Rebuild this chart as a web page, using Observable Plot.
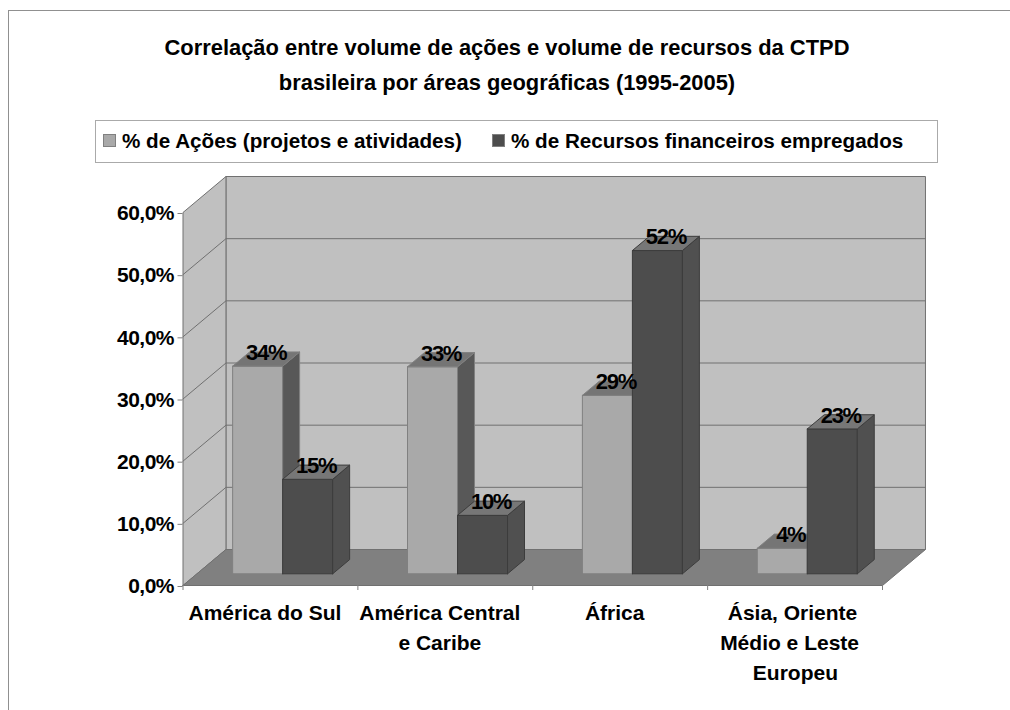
<!DOCTYPE html>
<html lang="pt">
<head>
<meta charset="utf-8">
<script src="https://cdn.jsdelivr.net/npm/d3@7"></script>
<script src="https://cdn.jsdelivr.net/npm/@observablehq/plot@0.6"></script>
<style>
html,body{margin:0;padding:0;background:#fff;width:1010px;height:710px;overflow:hidden;font-family:"Liberation Sans",Arial,sans-serif;color:#000}
#frame{position:absolute;left:8px;top:10px;width:1010px;height:710px;border-left:1px solid #909090;border-top:1px solid #909090}
#title{position:absolute;left:0;top:30px;width:1014px;text-align:center;font-weight:bold;font-size:21.9px;line-height:35px}
#legend{position:absolute;left:95px;top:120px;width:841px;height:41px;border:1px solid #aaa;background:#fff;font-weight:bold;font-size:20.65px}
#legend span{position:absolute;top:7px;line-height:26px;white-space:nowrap}
#legend i{position:absolute;top:13px;width:11px;height:11px;border:1px solid #808080}
#chart{position:absolute;left:0;top:170px}
#chart .data-label, #chart .data-label text{letter-spacing:-1.3px}
#chart g[aria-label="y-axis tick label"] text{letter-spacing:-0.5px}
</style>
</head>
<body>
<div id="frame"></div>
<div id="title">Correlação entre volume de ações e volume de recursos da CTPD<br>brasileira por áreas geográficas (1995-2005)</div>
<div id="legend"></div>
<div id="chart"></div>
<script>
const categories = ["América do Sul", "América Central\ne Caribe", "África", "\u00a0Ásia, Oriente\nMédio e Leste\n\u00a0\u00a0Europeu"];
const series = ["% de Ações (projetos e atividades)", "% de Recursos financeiros empregados"];
const acoes = [33.4, 33.3, 28.7, 4.1];
const recursos = [15.2, 9.4, 52, 23.3];
const acoesLabels = ["34%", "33%", "29%", "4%"];
const recursosLabels = ["15%", "10%", "52%", "23%"];
const yTicks = [0, 10, 20, 30, 40, 50, 60];
const colors = {
  wall: "#c0c0c0", floor: "#808080", line: "#707070",
  aFront: "#a9a9a9", aSide: "#585858", aTop: "#757575", aStroke: "#808080",
  bFront: "#4d4d4d", bSide: "#505050", bTop: "#777777", bStroke: "#3c3c3c"
};

// oblique projection, in data units: depth 0 = front plane, depth 1 = back wall
const depthX = 0.2457, depthY = 5.79;
const P = (c, v, d) => ({x: c + d * depthX, y: v + d * depthY});
const poly = (pts, fill, stroke, strokeWidth = 1) =>
  Plot.line([...pts, pts[0]].map(([c, v, d]) => P(c, v, d)), {x: "x", y: "y", fill, stroke, strokeWidth, strokeLinejoin: "round"});

const barD0 = 0.325, barD1 = 0.72, barW = 0.286, barShift = -0.01;
function bar(c, v, offset, fr, si, to, st) {
  const a = c + 0.5 + barShift - barW + offset * barW, b = a + barW;
  return [
    poly([[a, 0, barD0], [b, 0, barD0], [b, v, barD0], [a, v, barD0]], fr, st),
    poly([[b, 0, barD0], [b, 0, barD1], [b, v, barD1], [b, v, barD0]], si, st),
    poly([[a, v, barD0], [b, v, barD0], [b, v, barD1], [a, v, barD1]], to, st)
  ];
}
const barMarks = categories.flatMap((_, i) => [
  ...bar(i, acoes[i], 0, colors.aFront, colors.aSide, colors.aTop, colors.aStroke),
  ...bar(i, recursos[i], 1, colors.bFront, colors.bSide, colors.bTop, colors.bStroke)
]);
const labelRows = categories.flatMap((_, i) => [
  {...P(i + 0.5 + barShift - barW / 2, acoes[i], (barD0 + barD1) / 2), t: acoesLabels[i]},
  {...P(i + 0.5 + barShift + barW / 2, recursos[i], (barD0 + barD1) / 2), t: recursosLabels[i]}
]);

const plot = Plot.plot({
  width: 1010, height: 520,
  marginLeft: 182.5, marginRight: 128, marginTop: 42, marginBottom: 105,
  x: {domain: [0, 4], axis: null},
  y: {domain: [0, 60], axis: null},
  style: {fontFamily: '"Liberation Sans", Arial, sans-serif', fontWeight: "bold", fontSize: "20px", background: "transparent", overflow: "visible"},
  marks: [
    poly([[0, 0, 1], [4, 0, 1], [4, 60, 1], [0, 60, 1]], colors.wall, colors.line),
    poly([[0, 0, 0], [0, 0, 1], [0, 60, 1], [0, 60, 0]], colors.wall, colors.line),
    ...yTicks.slice(1, -1).map(v => Plot.line([P(0, v, 0), P(0, v, 1), P(4, v, 1)], {x: "x", y: "y", stroke: colors.line, strokeWidth: 1})),
    poly([[0, 0, 0], [4, 0, 0], [4, 0, 1], [0, 0, 1]], colors.floor, colors.line),
    Plot.axisY({ticks: yTicks, tickSize: 5, tickPadding: 4, stroke: "#808080", fill: "black", label: null, fontSize: 21, dy: 1,
      tickFormat: d => d.toFixed(1).replace(".", ",") + "%"}),
    Plot.axisX({ticks: [0, 1, 2, 3, 4], tickSize: 5, tickFormat: () => "", stroke: "#808080", label: null}),
    ...barMarks,
    Plot.text(labelRows, {x: "x", y: "y", text: "t", dy: -6, fill: "black", fontSize: 22, className: "data-label"}),
    Plot.text(categories.map((t, i) => ({x: i + 0.5, t})), {
      x: "x", y: () => 0, text: "t", dx: -5.5, dy: 13, fontSize: 21, lineHeight: 1.43, lineAnchor: "top", textAnchor: "middle", fill: "black"
    })
  ]
});
document.getElementById("chart").append(plot);

// legend
const legend = document.getElementById("legend");
[[7, 26, colors.aFront, series[0]], [396, 415, colors.bFront, series[1]]].forEach(([sx, tx, col, label]) => {
  const sw = document.createElement("i");
  sw.style.left = sx + "px"; sw.style.background = col;
  const t = document.createElement("span");
  t.style.left = tx + "px"; t.textContent = label;
  legend.append(sw, t);
});
</script>
</body>
</html>
